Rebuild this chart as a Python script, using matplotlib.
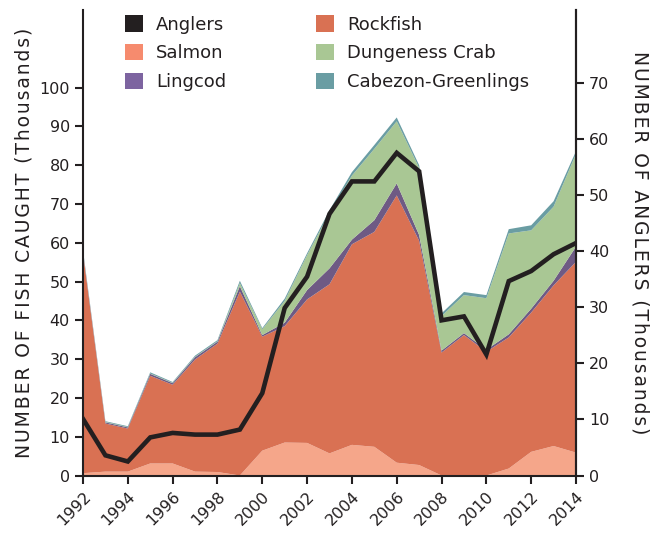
import numpy as np
import matplotlib
matplotlib.use("Agg")
import matplotlib.pyplot as plt
from matplotlib.patches import Patch

years = list(range(1992, 2015))

# thousands of fish, stacked bottom -> top
salmon = [0.6, 1.0, 1.0, 3.1, 3.1, 1.0, 0.9, 0.0, 6.4, 8.5, 8.4, 5.7,
          7.9, 7.4, 3.3, 2.7, 0.0, 0.0, 0.0, 1.8, 6.1, 7.6, 5.9]
rockfish = [56.7, 12.4, 11.1, 22.6, 20.3, 28.9, 33.1, 47.4, 29.4, 30.0, 37.0, 43.6,
            51.7, 55.4, 68.9, 57.8, 31.7, 36.2, 31.9, 33.8, 35.9, 41.4, 49.2]
lingcod = [0.4, 0.3, 0.3, 0.5, 0.4, 0.6, 0.5, 1.4, 0.4, 0.9, 2.4, 4.1,
           1.2, 3.0, 3.1, 1.5, 0.5, 0.5, 0.5, 0.8, 1.0, 1.2, 3.9]
crab = [0.1, 0.1, 0.1, 0.1, 0.1, 0.1, 0.1, 0.8, 1.5, 5.6, 9.0, 14.3,
        16.5, 18.4, 16.0, 17.3, 8.9, 9.8, 13.3, 26.0, 20.2, 19.1, 23.9]
cabezon = [0.3, 0.2, 0.2, 0.3, 0.2, 0.3, 0.3, 0.6, 0.3, 0.6, 0.5, 0.7,
           0.9, 1.0, 1.0, 0.7, 0.7, 0.8, 0.8, 1.1, 1.3, 1.4, 0.7]

# thousands of anglers (right axis)
anglers = [10.1, 3.6, 2.5, 6.8, 7.6, 7.3, 7.3, 8.2, 14.7, 29.9, 35.5, 46.7,
           52.5, 52.5, 57.6, 54.3, 27.7, 28.4, 21.6, 34.7, 36.5, 39.5, 41.5]

dark = "#231F20"
fill_cols = ["#F5A68A", "#D97153", "#6E5A84", "#A9C794", "#6A9DA3"]
legend_cols = {"Anglers": dark, "Salmon": "#F68B6E", "Lingcod": "#7D64A0",
               "Rockfish": "#D97153", "Dungeness Crab": "#A9C794",
               "Cabezon-Greenlings": "#6A9DA3"}


def tracked(s):
    # loose letter spacing like the original axis titles
    return "\u200a".join(s)


plt.rcParams['font.family'] = 'DejaVu Sans'
fig = plt.figure(figsize=(6.52, 5.34), dpi=100)
ax = fig.add_axes([83/652, 1 - 475.5/534, (576 - 83)/652, (475.5 - 10)/534])

ax.stackplot(years, salmon, rockfish, lingcod, crab, cabezon,
             colors=fill_cols, linewidth=0)
ax.set_xlim(1992, 2014)
ax.set_ylim(0, 120)
ax.set_yticks(range(0, 101, 10))
ax.set_xticks(range(1992, 2015, 2))
ax.set_xticklabels([str(y) for y in range(1992, 2015, 2)], rotation=45,
                   ha="right", va="top", rotation_mode="anchor")

ax2 = ax.twinx()
ax2.plot(years, anglers, color=dark, lw=3.3, solid_joinstyle="miter")
ax2.set_ylim(0, 83.1)
ax2.set_yticks(range(0, 71, 10))

for a in (ax, ax2):
    a.spines["top"].set_visible(False)
    for s in ("left", "right", "bottom"):
        a.spines[s].set_color(dark)
        a.spines[s].set_linewidth(1.5)
    a.tick_params(colors=dark, labelsize=11.5, width=1.5, length=6)
ax2.spines["left"].set_visible(False)
ax2.spines["bottom"].set_visible(False)

ax.set_ylabel(tracked("NUMBER OF FISH CAUGHT (Thousands)"), fontsize=13.5,
              color=dark, labelpad=4)
ax2.set_ylabel(tracked("NUMBER OF ANGLERS (Thousands)"), fontsize=13.5, color=dark,
               rotation=270, labelpad=29)

order = ["Anglers", "Salmon", "Lingcod", "Rockfish", "Dungeness Crab", "Cabezon-Greenlings"]
handles = [Patch(facecolor=legend_cols[k], edgecolor="none", label=k) for k in order]
leg = ax2.legend(handles=handles, ncol=2, frameon=False, fontsize=13,
                 loc="upper left", bbox_to_anchor=(0.071, 1.004),
                 handlelength=1.0, handleheight=1.0, handletextpad=0.7,
                 labelspacing=0.58, columnspacing=5.0, borderaxespad=0)
for t in leg.get_texts():
    t.set_color(dark)

fig.savefig("out.png", dpi=100)
